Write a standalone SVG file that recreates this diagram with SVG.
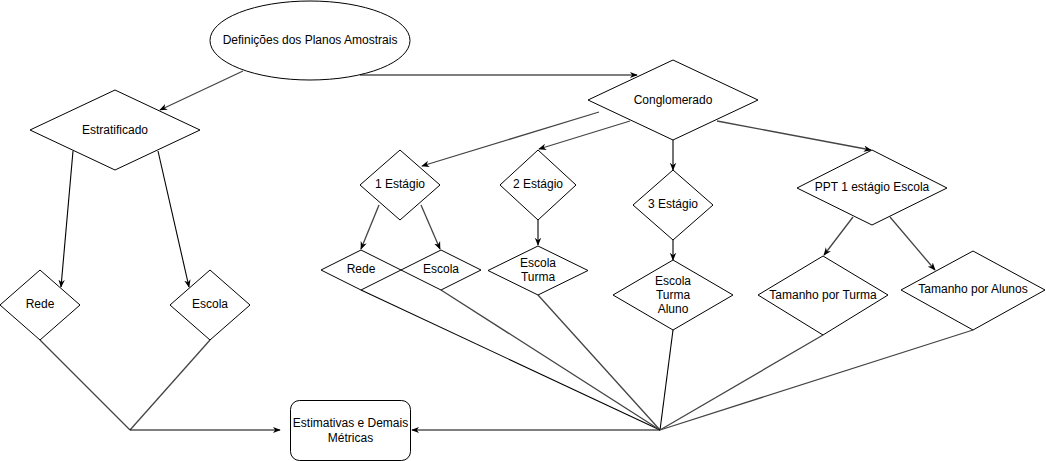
<svg xmlns="http://www.w3.org/2000/svg" width="1046" height="461" viewBox="0 0 1046 461">
<style>
.n{fill:#fff;stroke:#000;stroke-width:1}
.t{font-family:"Liberation Sans",Arial,sans-serif;font-size:12px;fill:#000;text-anchor:middle;dominant-baseline:central}
.e{fill:none;stroke:#000;stroke-width:1.1}
.g{fill:none;stroke:#444;stroke-width:1.3}
.a{marker-end:url(#arr)}
</style>
<defs>
<marker id="arr" viewBox="0 0 10 10" refX="9" refY="5" markerWidth="8" markerHeight="8" orient="auto" markerUnits="userSpaceOnUse">
<path d="M0,1 L10,5 L0,9 L3,5 Z" fill="#000"/>
</marker>
</defs>
<g id="connectors">
<line class="g a" x1="243" y1="71" x2="160" y2="110"/>
<polyline class="e a" points="360,75 637,75"/>
<line class="e a" x1="73" y1="151" x2="61" y2="287"/>
<line class="e a" x1="158" y1="151" x2="189" y2="287"/>
<line class="g" x1="40" y1="340" x2="130" y2="430"/>
<line class="g" x1="210" y1="340" x2="130" y2="430"/>
<line class="e a" x1="130" y1="430" x2="280" y2="430"/>
<line class="g a" x1="599" y1="112" x2="422" y2="166"/>
<line class="g a" x1="630" y1="121" x2="539" y2="149"/>
<line class="e a" x1="673" y1="140" x2="673" y2="170"/>
<line class="g a" x1="717" y1="121" x2="871" y2="150"/>
<line class="g a" x1="379" y1="205" x2="361" y2="249"/>
<line class="g a" x1="421" y1="205" x2="440" y2="249"/>
<line class="e a" x1="538" y1="220" x2="538" y2="245"/>
<line class="e a" x1="673" y1="240" x2="673" y2="260"/>
<line class="g a" x1="853" y1="217" x2="824" y2="255"/>
<line class="g a" x1="890" y1="217" x2="935" y2="270"/>
<line class="e" x1="361" y1="290" x2="660" y2="430"/>
<line class="g" x1="441" y1="290" x2="660" y2="430"/>
<line class="g" x1="538" y1="295" x2="660" y2="430"/>
<line class="e" x1="673" y1="330" x2="660" y2="430"/>
<line class="g" x1="823" y1="335" x2="660" y2="430"/>
<line class="g" x1="973" y1="330" x2="660" y2="430"/>
<line class="e a" x1="660" y1="430" x2="412" y2="430"/>
</g>
<g id="definicoes">
<ellipse class="n" cx="310" cy="40.5" rx="100" ry="39.5"/>
<text class="t" x="310" y="40">Definições dos Planos Amostrais</text>
</g>
<g id="estratificado">
<polygon class="n" points="30,130 115,90 200,130 115,170"/>
<text class="t" x="115" y="130">Estratificado</text>
</g>
<g id="rede-estrat">
<polygon class="n" points="0,305 40,270 80,305 40,340"/>
<text class="t" x="40" y="304">Rede</text>
</g>
<g id="escola-estrat">
<polygon class="n" points="170,305 210,270 250,305 210,340"/>
<text class="t" x="210" y="304">Escola</text>
</g>
<g id="estimativas">
<rect class="n" x="290.5" y="400.5" width="120" height="60" rx="9" ry="9"/>
<text class="t" x="350.5" y="423">Estimativas e Demais</text>
<text class="t" x="350.5" y="438">Métricas</text>
</g>
<g id="conglomerado">
<polygon class="n" points="588,100 673,60 758,100 673,140"/>
<text class="t" x="673" y="100">Conglomerado</text>
</g>
<g id="estagio1">
<polygon class="n" points="360,185 400,150 440,185 400,220"/>
<text class="t" x="400" y="184">1 Estágio</text>
</g>
<g id="estagio2">
<polygon class="n" points="500,185 538,150 576,185 538,220"/>
<text class="t" x="538" y="184">2 Estágio</text>
</g>
<g id="estagio3">
<polygon class="n" points="633,205 673,170 713,205 673,240"/>
<text class="t" x="673" y="204">3 Estágio</text>
</g>
<g id="ppt">
<polygon class="n" points="797,188 872,150 947,188 872,225"/>
<text class="t" x="872" y="187">PPT 1 estágio Escola</text>
</g>
<g id="rede-1e">
<polygon class="n" points="321,270 361,250 401,270 361,290"/>
<text class="t" x="361" y="269">Rede</text>
</g>
<g id="escola-1e">
<polygon class="n" points="401,270 441,250 481,270 441,290"/>
<text class="t" x="441" y="269">Escola</text>
</g>
<g id="escola-turma">
<polygon class="n" points="488,270.5 538,246 588,270.5 538,295"/>
<text class="t" x="538" y="263">Escola</text>
<text class="t" x="538" y="277">Turma</text>
</g>
<g id="escola-turma-aluno">
<polygon class="n" points="613,295 673,260 733,295 673,330"/>
<text class="t" x="673" y="281">Escola</text>
<text class="t" x="673" y="295">Turma</text>
<text class="t" x="673" y="309">Aluno</text>
</g>
<g id="tamanho-turma">
<polygon class="n" points="758,295 823,256 888,295 823,335"/>
<text class="t" x="823" y="295">Tamanho por Turma</text>
</g>
<g id="tamanho-alunos">
<polygon class="n" points="901,290 973,251 1045,290 973,330"/>
<text class="t" x="973" y="289">Tamanho por Alunos</text>
</g>
</svg>
